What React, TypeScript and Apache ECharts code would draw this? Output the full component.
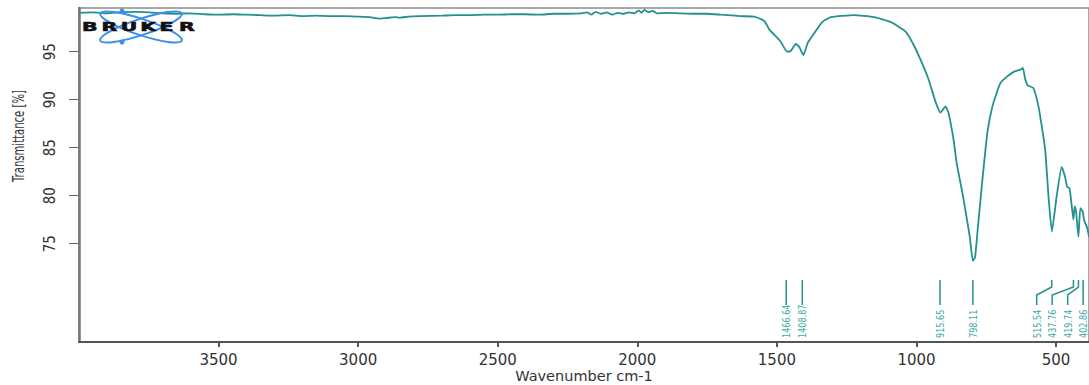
import React, { useEffect, useRef } from "react";
import * as echarts from "echarts";

// Spectrum (wavenumber cm-1, transmittance %)
const wavenumbers = [
  4000, 3950, 3900, 3850, 3800, 3750, 3700, 3650, 3600, 3550, 3500, 3450, 3400, 3350, 3300, 3250,
  3200, 3150, 3100, 3050, 3000, 2960, 2925, 2900, 2870, 2850, 2820, 2780, 2700, 2650, 2600, 2550,
  2500, 2450, 2400, 2350, 2300, 2250, 2200, 2180, 2165, 2150, 2130, 2110, 2090, 2070, 2050, 2030,
  2010, 1995, 1985, 1975, 1960, 1945, 1930, 1900, 1850, 1800, 1750, 1700, 1650, 1628, 1581, 1545,
  1527, 1500, 1486, 1464, 1450, 1432, 1420, 1405, 1390, 1367, 1337, 1307, 1224, 1152, 1093, 1039,
  1010, 980, 956, 932, 914, 896, 885, 867, 856, 833, 809, 798, 790, 781, 764, 746, 728, 700, 676,
  652, 630, 619, 611, 602, 581, 563, 551, 539, 527, 515, 498, 480, 468, 460, 452, 444, 438, 433,
  428, 420, 413, 404, 400, 388, 382,
];
const transmittance = [
  99.05, 99.1, 99.0, 99.1, 99.15, 99.1, 99.0, 98.95, 99.0, 98.9, 98.85, 98.9, 98.85, 98.8, 98.75, 98.8,
  98.7, 98.75, 98.7, 98.7, 98.65, 98.6, 98.45, 98.5, 98.6, 98.55, 98.65, 98.7, 98.75, 98.8, 98.8, 98.85,
  98.85, 98.9, 98.9, 98.85, 98.95, 98.95, 99.0, 99.1, 98.85, 99.15, 98.95, 99.1, 98.85, 99.05, 98.95, 99.1,
  99.0, 99.3, 99.05, 99.35, 99.1, 99.25, 99.0, 99.05, 99.0, 98.95, 98.95, 98.85, 98.75, 98.7, 98.65, 98.2,
  97.3, 96.5, 96.04, 95.0, 95.1, 95.8, 95.5, 94.65, 95.9, 96.9, 98.1, 98.6, 98.8, 98.6, 98.1, 97.1,
  95.7, 93.8, 92.05, 89.8, 88.65, 89.3, 88.6, 85.8, 83.4, 79.9, 75.7, 73.2, 73.6, 76.4, 81.6, 86.6, 89.3, 91.7, 92.4,
  92.9, 93.1, 93.3, 92.2, 91.5, 91.2, 89.3, 87.2, 84.8, 79.9, 76.25, 79.9, 83.0, 82.0, 80.9, 80.8, 79.0, 77.5, 78.9,
  78.3, 75.7, 78.7, 78.3, 77.5, 76.6, 75.7,
];

const peakPositions = [1466.64, 1408.87, 915.65, 798.11, 515.54, 437.76, 419.74, 402.86];
const peakLabels = ["1466.64", "1408.87", "915.65", "798.11", "515.54", "437.76", "419.74", "402.86"];

const xTicks = [500, 1000, 1500, 2000, 2500, 3000, 3500];
const yTicks = [75, 80, 85, 90, 95];

const X_MIN = 382;
const X_MAX = 4000;
const Y_MIN = 64.76;
const Y_MAX = 99.55;

const LINE_COLOR = "#23918f";
const PEAK_COLOR = "#3aa9a7";
const TEXT_COLOR = "#333333";
const NARROW = "'Liberation Sans Narrow', 'DejaVu Sans Condensed', 'Liberation Sans', sans-serif";

export default function App() {
  const ref = useRef<HTMLDivElement>(null);

  useEffect(() => {
    if (!ref.current) return;
    const chart = echarts.init(ref.current, undefined, { renderer: "svg" });

    const spectrum = wavenumbers.map((w, i) => [w, transmittance[i]]);
    const peaks = peakPositions.map((w) => [w, 70]);

    const letters = ["B", "R", "U", "K", "E", "R"];

    chart.setOption({
      animation: false,
      backgroundColor: "#ffffff",
      grid: {
        left: 79,
        top: 8,
        right: 0,
        bottom: 43,
        containLabel: false,
        outerBoundsMode: "none",
        show: true,
        borderColor: "#8a8a8a",
        borderWidth: 1.5,
      },
      xAxis: {
        type: "value",
        min: X_MIN,
        max: X_MAX,
        inverse: true,
        axisLine: { show: true, onZero: false, lineStyle: { color: "#555", width: 2 } },
        axisTick: { show: true, length: 5, customValues: xTicks, lineStyle: { color: "#555", width: 2 } },
        axisLabel: {
          customValues: xTicks,
          margin: 10,
          color: TEXT_COLOR,
          fontFamily: "DejaVu Sans",
          fontSize: 15,
          formatter: (v: number) => String(v),
        },
        splitLine: { show: false },
      },
      yAxis: {
        type: "value",
        min: Y_MIN,
        max: Y_MAX,
        axisLine: { show: true, onZero: false, lineStyle: { color: "#777", width: 2.5 } },
        axisTick: { show: true, length: 10, customValues: yTicks, lineStyle: { color: "#666", width: 1 } },
        axisLabel: {
          customValues: yTicks,
          rotate: 90,
          margin: 22,
          color: TEXT_COLOR,
          fontFamily: NARROW,
          fontSize: 15,
        },
        splitLine: { show: false },
      },
      graphic: [
        {
          type: "text",
          x: 584,
          y: 376,
          style: {
            text: "Wavenumber cm-1",
            fill: TEXT_COLOR,
            font: "14.5px 'DejaVu Sans', sans-serif",
            align: "center",
            verticalAlign: "middle",
            textAlign: "center",
            textVerticalAlign: "middle",
          },
          z: 10,
        },
        {
          type: "text",
          x: 18,
          y: 136,
          rotation: Math.PI / 2,
          scaleX: 0.7,
          style: {
            text: "Transmittance [%]",
            fill: TEXT_COLOR,
            font: `16px ${NARROW}`,
            align: "center",
            verticalAlign: "middle",
            textAlign: "center",
            textVerticalAlign: "middle",
          },
          z: 10,
        },
        {
          type: "ellipse",
          x: 141,
          y: 27,
          rotation: 0.32,
          shape: { cx: 0, cy: 0, rx: 43, ry: 8 },
          style: { fill: "none", stroke: "#3b8fec", lineWidth: 2 },
          z: 5,
        },
        {
          type: "ellipse",
          x: 141,
          y: 27,
          rotation: -0.32,
          shape: { cx: 0, cy: 0, rx: 43, ry: 8 },
          style: { fill: "none", stroke: "#3b8fec", lineWidth: 2 },
          z: 5,
        },
        { type: "circle", shape: { cx: 122, cy: 11, r: 2.5 }, style: { fill: "#3b8fec" }, z: 6 },
        { type: "circle", shape: { cx: 122, cy: 42, r: 2.5 }, style: { fill: "#3b8fec" }, z: 6 },
        ...letters.map((l, i) => ({
          type: "text",
          x: 82 + i * 19.4,
          y: 27,
          scaleX: 1.7,
          style: {
            text: l,
            fill: "#111",
            font: "900 12px 'DejaVu Sans', sans-serif",
            align: "left",
            verticalAlign: "middle",
            textAlign: "left",
            textVerticalAlign: "middle",
            stroke: "#111",
            lineWidth: 0.6,
          },
          z: 7,
        })),
      ],
      series: [
        {
          type: "line",
          data: spectrum,
          showSymbol: false,
          symbol: "none",
          smooth: 0.15,
          lineStyle: { color: LINE_COLOR, width: 1.8 },
          z: 3,
        },
        {
          type: "custom",
          data: peaks,
          encode: { x: 0, y: 1 },
          clip: false,
          z: 4,
          renderItem: (params: any, api: any) => {
            const i = params.dataIndex;
            const xs = peakPositions.map((w) => api.coord([w, Y_MIN])[0]);
            const bottom = api.coord([peakPositions[0], Y_MIN])[1];
            const order = xs.map((_, k) => k).sort((a, b) => xs[b] - xs[a]);
            const lx: number[] = new Array(xs.length);
            let prev = Infinity;
            for (const k of order) {
              lx[k] = Math.min(xs[k], prev - 15.5);
              prev = lx[k];
            }
            return {
              type: "group",
              children: [
                {
                  type: "polyline",
                  shape: {
                    points: [
                      [xs[i], bottom - 62],
                      [xs[i], bottom - 55],
                      [lx[i], bottom - 47],
                      [lx[i], bottom - 37],
                    ],
                  },
                  style: { stroke: LINE_COLOR, lineWidth: 1.5, fill: "none" },
                },
                {
                  type: "text",
                  x: lx[i],
                  y: bottom - 4,
                  rotation: Math.PI / 2,
                  scaleX: 0.82,
                  style: {
                    text: peakLabels[i],
                    fill: PEAK_COLOR,
                    font: `11px ${NARROW}`,
                    align: "left",
                    verticalAlign: "middle",
                    textAlign: "left",
                    textVerticalAlign: "middle",
                  },
                },
              ],
            };
          },
        },
      ],
    });

    return () => chart.dispose();
  }, []);

  return (
    <div
      ref={ref}
      style={{ position: "absolute", left: 0, top: 0, width: 1089, height: 385, background: "#fff" }}
    />
  );
}
